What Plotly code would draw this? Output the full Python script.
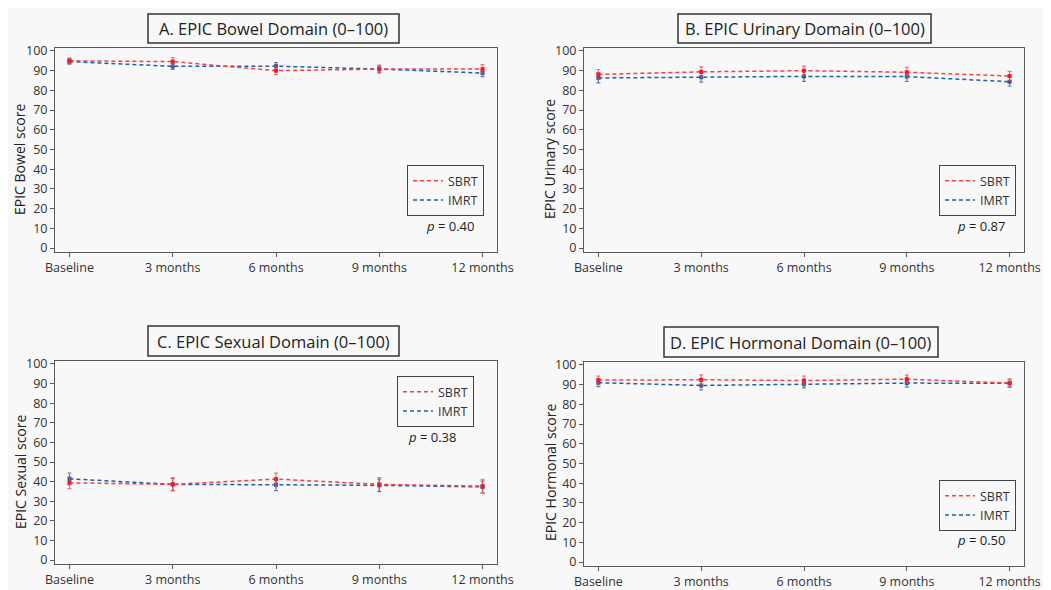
import plotly.graph_objects as go

W, H = 1043, 582

timepoints = ["Baseline", "3 months", "6 months", "9 months", "12 months"]

bowel_sbrt = [95.0, 94.6, 90.0, 90.8, 90.8]
bowel_sbrt_err = [1.5, 2.0, 2.0, 2.0, 2.3]
bowel_imrt = [94.6, 92.2, 92.3, 90.8, 88.8]
bowel_imrt_err = [1.3, 1.5, 1.8, 1.5, 1.8]

urinary_sbrt = [88.1, 89.4, 90.0, 89.2, 87.3]
urinary_sbrt_err = [2.5, 2.5, 2.3, 2.5, 2.3]
urinary_imrt = [86.3, 86.7, 87.1, 87.0, 84.4]
urinary_imrt_err = [2.5, 2.5, 2.5, 2.5, 2.3]

sexual_sbrt = [39.4, 38.6, 41.3, 38.6, 37.7]
sexual_sbrt_err = [3.0, 3.2, 3.0, 3.5, 3.5]
sexual_imrt = [41.4, 38.6, 38.4, 38.1, 37.3]
sexual_imrt_err = [3.0, 3.2, 3.0, 3.2, 3.0]

hormonal_sbrt = [92.3, 92.5, 92.1, 92.8, 90.8]
hormonal_sbrt_err = [2.0, 2.5, 2.3, 2.0, 2.2]
hormonal_imrt = [91.0, 89.6, 90.2, 90.8, 90.7]
hormonal_imrt_err = [2.0, 2.3, 1.8, 2.0, 1.8]

titles = ["A. EPIC Bowel Domain (0\u2013100)", "B. EPIC Urinary Domain (0\u2013100)",
          "C. EPIC Sexual Domain (0\u2013100)", "D. EPIC Hormonal Domain (0\u2013100)"]
ytitles = ["EPIC Bowel score", "EPIC Urinary score", "EPIC Sexual score", "EPIC Hormonal score"]
pvalues = ["0.40", "0.87", "0.38", "0.50"]
series_names = ["SBRT", "IMRT"]

panels_data = [
    (bowel_sbrt, bowel_sbrt_err, bowel_imrt, bowel_imrt_err),
    (urinary_sbrt, urinary_sbrt_err, urinary_imrt, urinary_imrt_err),
    (sexual_sbrt, sexual_sbrt_err, sexual_imrt, sexual_imrt_err),
    (hormonal_sbrt, hormonal_sbrt_err, hormonal_imrt, hormonal_imrt_err),
]

# page offset (body margin) and layout geometry in page pixels: (x0, x1, ytop, ybottom)
OFF = 8
boxes = [(55, 497, 48, 252), (584, 1024, 48, 252), (55, 497, 361, 564), (584, 1024, 362, 566)]
title_boxes = [(148, 399, 14, 43), (678, 931, 14, 43), (148, 399, 326, 356), (664, 938, 327, 357)]
legend_pos = [(407, 165), (939, 165), (397, 376), (939, 480)]
p_pos = [(476, 226), (1007, 226), (458, 437), (1007, 540)]
ytitle_pos = [(20, 160), (550, 159), (20, 472), (550, 473)]

RED = "#ff3b3b"
BLUE = "#1f5ea8"
RED_ERR = "rgba(240,70,70,0.75)"
BLUE_ERR = "rgba(40,90,160,0.75)"
AXC = "#5a5a5a"
FONT = "Open Sans"

def px(x):
    return (x - OFF) / W

def py(y):
    return 1 - (y - OFF) / H

fig = go.Figure()

for i, (sb, sbe, im, ime) in enumerate(panels_data):
    n = "" if i == 0 else str(i + 1)
    xa, ya = "x" + n, "y" + n
    leg = "legend" + n
    fig.add_trace(go.Scatter(
        x=timepoints, y=im, xaxis=xa, yaxis=ya, mode="lines+markers",
        line=dict(color=BLUE, dash="4px,3px", width=1.5),
        marker=dict(symbol="square", size=4, color=BLUE),
        error_y=dict(type="data", array=ime, color=BLUE_ERR, thickness=1.2, width=2),
        showlegend=False))
    fig.add_trace(go.Scatter(
        x=timepoints, y=sb, xaxis=xa, yaxis=ya, mode="lines+markers",
        line=dict(color=RED, dash="4px,3px", width=1.5),
        marker=dict(symbol="square", size=4, color="#ee1c2c"),
        error_y=dict(type="data", array=sbe, color=RED_ERR, thickness=1.2, width=2),
        showlegend=False))
    for name, col in zip(series_names, [RED, BLUE]):
        fig.add_trace(go.Scatter(
            x=[None], y=[None], xaxis=xa, yaxis=ya, mode="lines", name=name,
            line=dict(color=col, dash="4px,3px", width=1.5),
            legend=leg, showlegend=True))

    x0, x1, yt, yb = boxes[i]
    fig.layout["xaxis" + n] = dict(
        domain=[px(x0), px(x1)], anchor=ya, type="category", automargin=False,
        range=[-0.14, 4.14], showline=True, mirror=True, linecolor=AXC, linewidth=1,
        ticks="outside", ticklen=4, tickcolor=AXC, showgrid=False, zeroline=False,
        tickfont=dict(family=FONT, size=12.5, color="#333"))
    fig.layout["yaxis" + n] = dict(
        domain=[py(yb), py(yt)], anchor=xa, range=[-2, 101.5], automargin=False,
        tickvals=list(range(0, 101, 10)), showline=True, mirror=True,
        linecolor=AXC, linewidth=1, ticks="outside", ticklen=4, tickcolor=AXC,
        showgrid=False, zeroline=False,
        tickfont=dict(family=FONT, size=12.5, color="#333"))

    lx, ly = legend_pos[i]
    fig.layout[leg] = dict(
        x=px(lx), y=py(ly), xanchor="left", yanchor="top",
        bgcolor="rgba(0,0,0,0)", bordercolor="#444", borderwidth=1,
        font=dict(family=FONT, size=12.5, color="#333"),
        itemwidth=30, tracegroupgap=0)

    tx0, tx1, ty0, ty1 = title_boxes[i]
    fig.add_shape(type="rect", xref="paper", yref="paper",
                  x0=px(tx0), x1=px(tx1), y0=py(ty1), y1=py(ty0),
                  line=dict(color="#333", width=1.5), fillcolor="rgba(0,0,0,0)")
    fig.add_annotation(xref="paper", yref="paper", x=px((tx0 + tx1) / 2), y=py((ty0 + ty1) / 2),
                       text=titles[i], showarrow=False, xanchor="center", yanchor="middle",
                       font=dict(family=FONT, size=16.5, color="#222"))

    yx, yy = ytitle_pos[i]
    fig.add_annotation(xref="paper", yref="paper", x=px(yx), y=py(yy),
                       text=ytitles[i], textangle=-90, showarrow=False,
                       xanchor="center", yanchor="middle",
                       font=dict(family=FONT, size=14, color="#222"))

    ppx, ppy = p_pos[i]
    fig.add_annotation(xref="paper", yref="paper", x=px(ppx), y=py(ppy),
                       text="<i>p</i> = " + pvalues[i], showarrow=False,
                       xanchor="right", yanchor="middle",
                       font=dict(family=FONT, size=13, color="#222"))

fig.update_layout(
    width=W, height=H, margin=dict(l=0, r=0, t=0, b=0),
    paper_bgcolor="#f8f8f8", plot_bgcolor="#f8f8f8",
    font=dict(family=FONT, color="#333"),
)

fig.write_html("out.html")
